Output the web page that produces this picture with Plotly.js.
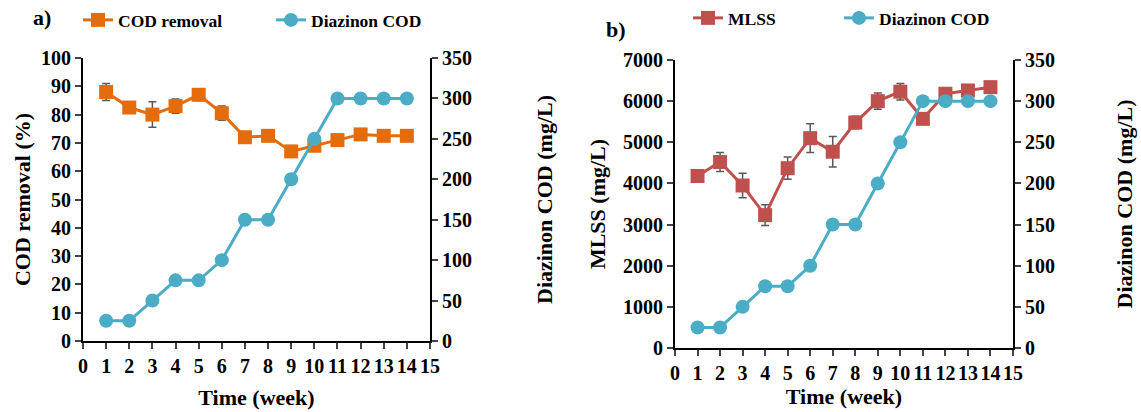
<!DOCTYPE html>
<html>
<head>
<meta charset="utf-8">
<script src="https://cdn.plot.ly/plotly-3.0.1.min.js"></script>
<style>body{margin:0;background:#fff}</style>
</head>
<body>
<div id="chart" style="width:1141px;height:412px"></div>
<script>
const weeks = [1, 2, 3, 4, 5, 6, 7, 8, 9, 10, 11, 12, 13, 14];
const codRemoval = [88, 82.5, 80, 83, 87, 80.5, 72, 72.5, 67, 69, 71, 73, 72.5, 72.5];
const codRemovalErr = [3, 1.2, 4.5, 2.5, 2, 2.5, 1, 1, 2, 1, 1, 1, 1, 1];
const diazinonCOD = [25, 25, 50, 75, 75, 100, 150, 150, 200, 250, 300, 300, 300, 300];
const mlss = [4180, 4520, 3950, 3230, 4370, 5100, 4770, 5480, 6000, 6230, 5570, 6180, 6260, 6340];
const mlssErr = [150, 230, 300, 250, 270, 350, 370, 150, 200, 200, 100, 80, 80, 80];
const xTickVals = [0, 1, 2, 3, 4, 5, 6, 7, 8, 9, 10, 11, 12, 13, 14, 15];

const ORANGE = '#E46C0A', BLUE = '#4BACC6', RED = '#C0504D', ERR = '#595959';
const FONT = '"Liberation Serif", "Times New Roman", serif';
const tickF = {family: FONT, size: 20, color: '#000', weight: 'bold'};
const titleF = {family: FONT, size: 22, color: '#000', weight: 'bold'};
const legF = {family: FONT, size: 17.5, color: '#000', weight: 'bold'};

const errCfg = (arr) => ({type: 'data', array: arr, visible: true, color: ERR, thickness: 1.5, width: 4});

const traces = [
  {x: weeks, y: codRemoval, name: 'COD removal', xaxis: 'x', yaxis: 'y', legend: 'legend',
   mode: 'lines+markers', line: {color: ORANGE, width: 3},
   marker: {symbol: 'square', size: 14, color: ORANGE}, error_y: errCfg(codRemovalErr)},
  {x: weeks, y: diazinonCOD, name: 'Diazinon COD', xaxis: 'x', yaxis: 'y2', legend: 'legend',
   mode: 'lines+markers', line: {color: BLUE, width: 3},
   marker: {symbol: 'circle', size: 14, color: BLUE}},
  {x: weeks, y: mlss, name: 'MLSS', xaxis: 'x2', yaxis: 'y3', legend: 'legend2',
   mode: 'lines+markers', line: {color: RED, width: 3},
   marker: {symbol: 'square', size: 14, color: RED}, error_y: errCfg(mlssErr)},
  {x: weeks, y: diazinonCOD, name: 'Diazinon COD', xaxis: 'x2', yaxis: 'y4', legend: 'legend2',
   mode: 'lines+markers', line: {color: BLUE, width: 3},
   marker: {symbol: 'circle', size: 14, color: BLUE}}
];

const xBase = {range: [0, 15], tickvals: xTickVals, ticks: 'outside', ticklen: 6, tickwidth: 2,
  showline: true, linewidth: 2, linecolor: '#000', showgrid: false, zeroline: false,
  tickfont: tickF, fixedrange: true};
const yBase = {ticks: 'outside', ticklen: 6, tickwidth: 2, showline: true, linewidth: 2,
  linecolor: '#000', showgrid: false, zeroline: false, tickfont: tickF};

const layout = {
  width: 1141, height: 412,
  margin: {l: 0, r: 0, t: 0, b: 0},
  paper_bgcolor: '#fff', plot_bgcolor: 'rgba(0,0,0,0)',
  showlegend: true,
  xaxis: Object.assign({}, xBase, {domain: [83/1141, 430/1141], anchor: 'y',
    title: {text: 'Time (week)', font: titleF, standoff: 14}}),
  xaxis2: Object.assign({}, xBase, {domain: [675/1141, 1013/1141], anchor: 'y3',
    title: {text: 'Time (week)', font: titleF, standoff: 2}}),
  yaxis: Object.assign({}, yBase, {domain: [1 - 341/412, 1 - 58/412], anchor: 'x',
    range: [0, 100], dtick: 10, title: {text: 'COD removal (%)', font: titleF, standoff: 4}}),
  yaxis2: Object.assign({}, yBase, {domain: [1 - 341/412, 1 - 58/412], anchor: 'x', overlaying: 'y',
    side: 'right', range: [0, 350], dtick: 50, title: {text: 'Diazinon COD (mg/L)', font: titleF, standoff: 66}}),
  yaxis3: Object.assign({}, yBase, {domain: [1 - 348/412, 1 - 60/412], anchor: 'x2',
    range: [0, 7000], dtick: 1000, title: {text: 'MLSS (mg/L)', font: titleF, standoff: 11}}),
  yaxis4: Object.assign({}, yBase, {domain: [1 - 348/412, 1 - 60/412], anchor: 'x2', overlaying: 'y3',
    side: 'right', range: [0, 350], dtick: 50, title: {text: 'Diazinon COD (mg/L)', font: titleF, standoff: 63}}),
  legend: {orientation: 'h', x: 78/1141, y: 1 - 2/412, xanchor: 'left', yanchor: 'top',
    font: legF, entrywidth: 148, entrywidthmode: 'pixels', bgcolor: 'rgba(0,0,0,0)'},
  legend2: {orientation: 'h', x: 688/1141, y: 1, xanchor: 'left', yanchor: 'top',
    font: legF, entrywidth: 106, entrywidthmode: 'pixels', bgcolor: 'rgba(0,0,0,0)'},
  annotations: [
    {text: 'a)', x: 31/1141, y: 1 - 18/412, xref: 'paper', yref: 'paper', xanchor: 'left', yanchor: 'middle',
     showarrow: false, font: {family: FONT, size: 22, color: '#000', weight: 'bold'}},
    {text: 'b)', x: 604/1141, y: 1 - 30/412, xref: 'paper', yref: 'paper', xanchor: 'left', yanchor: 'middle',
     showarrow: false, font: {family: FONT, size: 22, color: '#000', weight: 'bold'}}
  ]
};

Plotly.newPlot('chart', traces, layout, {staticPlot: true});
</script>
</body>
</html>
